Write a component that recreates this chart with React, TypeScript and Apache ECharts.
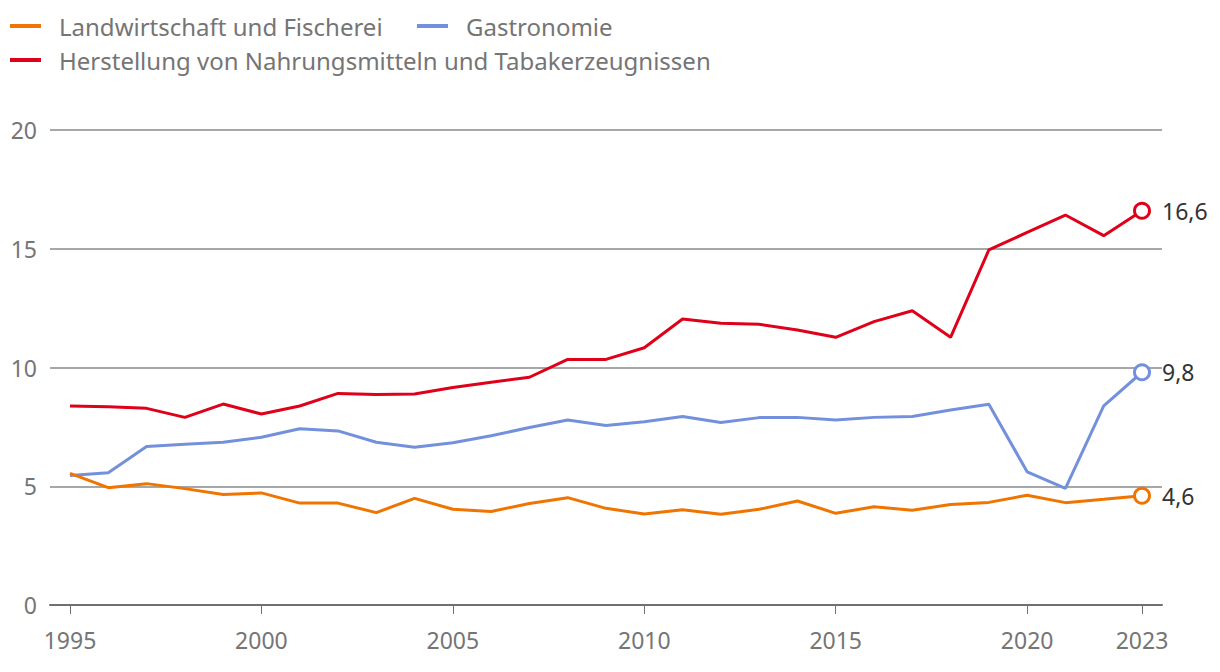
import React, { useEffect, useRef } from "react";
import * as echarts from "echarts";

const years: number[] = [
  1995, 1996, 1997, 1998, 1999, 2000, 2001, 2002, 2003, 2004, 2005, 2006, 2007, 2008,
  2009, 2010, 2011, 2012, 2013, 2014, 2015, 2016, 2017, 2018, 2019, 2020, 2021, 2022, 2023,
];

const landwirtschaft: number[] = [
  5.54, 4.94, 5.11, 4.9, 4.65, 4.72, 4.29, 4.29, 3.89, 4.49, 4.03, 3.94, 4.27, 4.52,
  4.07, 3.83, 4.01, 3.82, 4.03, 4.38, 3.86, 4.14, 3.99, 4.23, 4.32, 4.62, 4.31, 4.45, 4.6,
];

const gastronomie: number[] = [
  5.45, 5.57, 6.67, 6.77, 6.85, 7.06, 7.42, 7.33, 6.85, 6.64, 6.83, 7.13, 7.47, 7.79,
  7.56, 7.72, 7.94, 7.68, 7.89, 7.9, 7.79, 7.9, 7.94, 8.21, 8.45, 5.61, 4.91, 8.38, 9.8,
];

const herstellung: number[] = [
  8.38, 8.35, 8.28, 7.9, 8.46, 8.04, 8.38, 8.91, 8.86, 8.88, 9.16, 9.38, 9.59, 10.34,
  10.34, 10.83, 12.04, 11.86, 11.82, 11.58, 11.27, 11.93, 12.39, 11.27, 14.95, 15.69, 16.42, 15.55, 16.6,
];

const xTickYears: number[] = [1995, 2000, 2005, 2010, 2015, 2020, 2023];
const yTicks: number[] = [0, 5, 10, 15, 20];

const seriesNames: string[] = [
  "Landwirtschaft und Fischerei",
  "Gastronomie",
  "Herstellung von Nahrungsmitteln und Tabakerzeugnissen",
];
const seriesColors: string[] = ["#f07400", "#7390dc", "#df0019"];

const FONT = "'Noto Sans', 'Open Sans', sans-serif";

function buildData(values: number[], color: string) {
  return values.map((v, i) => {
    const point: any = { value: [years[i], v] };
    if (i === values.length - 1) {
      point.symbol = "circle";
      point.symbolSize = 15;
      point.itemStyle = { color: "#ffffff", borderColor: color, borderWidth: 3 };
      point.label = {
        show: true,
        position: "right",
        distance: 11,
        fontFamily: FONT,
        fontSize: 23,
        color: "#333333",
        formatter: () => v.toFixed(1).replace(".", ","),
      };
    }
    return point;
  });
}

export default function App() {
  const ref = useRef<HTMLDivElement>(null);

  useEffect(() => {
    if (!ref.current) return;
    const chart = echarts.init(ref.current, undefined, { renderer: "svg" });
    const allValues = [landwirtschaft, gastronomie, herstellung];
    const legendBase = {
      icon: "rect",
      itemWidth: 31,
      itemHeight: 4,
      itemGap: 0,
      textStyle: {
        fontFamily: FONT,
        fontSize: 24,
        color: "#757575",
        padding: [0, 0, 0, 13],
      },
    };
    chart.setOption({
      animation: false,
      backgroundColor: "#ffffff",
      legend: [
        { ...legendBase, data: [seriesNames[0]], left: 5, top: 9 },
        { ...legendBase, data: [seriesNames[1]], left: 412, top: 9 },
        { ...legendBase, data: [seriesNames[2]], left: 5, top: 43 },
      ],
      grid: { left: 50, right: 58, top: 130, bottom: 67, containLabel: false },
      xAxis: {
        type: "value",
        min: 1995 - 0.5223,
        max: 2023 + 0.5223,
        splitLine: { show: false },
        axisLine: { show: true, lineStyle: { color: "#707070", width: 2 } },
        axisTick: {
          show: true,
          length: 9,
          customValues: xTickYears,
          lineStyle: { color: "#707070", width: 1 },
        },
        axisLabel: {
          customValues: xTickYears,
          formatter: (v: number) => String(v),
          fontFamily: FONT,
          fontSize: 23,
          color: "#757575",
          margin: 23,
        },
      },
      yAxis: {
        type: "value",
        min: 0,
        max: 20,
        interval: 5,
        axisLine: { show: false },
        axisTick: { show: false },
        splitLine: { show: true, lineStyle: { color: "#8a8a8a", width: 1.5 } },
        axisLabel: {
          fontFamily: FONT,
          fontSize: 23,
          color: "#757575",
          margin: 13,
          formatter: (v: number) => (yTicks.includes(v) ? String(v) : ""),
        },
      },
      series: seriesNames.map((name, idx) => ({
        name,
        type: "line",
        symbol: "none",
        showSymbol: true,
        color: seriesColors[idx],
        lineStyle: { color: seriesColors[idx], width: 3 },
        data: buildData(allValues[idx], seriesColors[idx]),
        z: idx === 2 ? 3 : idx === 1 ? 2 : 4,
      })),
    });
    return () => chart.dispose();
  }, []);

  return (
    <div
      ref={ref}
      style={{ position: "fixed", left: 0, top: 0, width: 1220, height: 672 }}
    />
  );
}
